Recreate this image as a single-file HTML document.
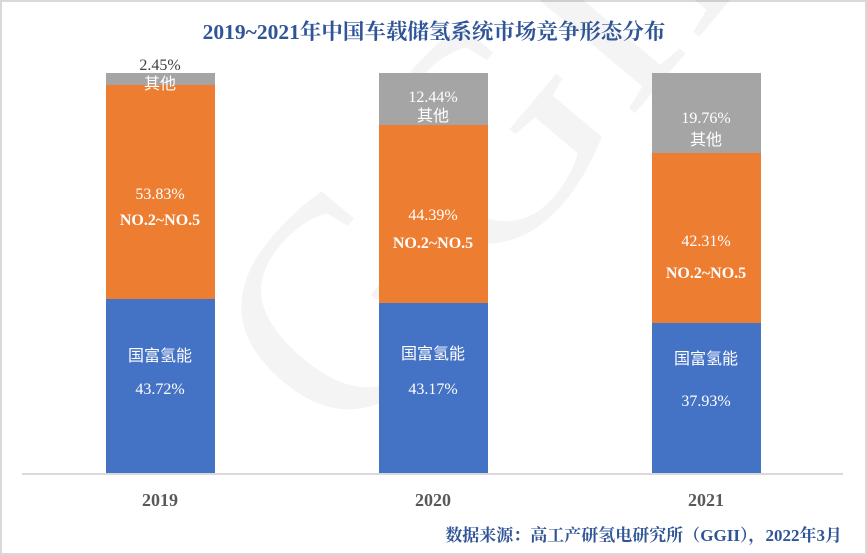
<!DOCTYPE html>
<html><head><meta charset="utf-8"><style>
body{margin:0;background:#fff}
</style></head><body>
<svg width="867" height="555" xmlns="http://www.w3.org/2000/svg" style="display:block">
<rect x="1" y="1" width="865" height="553" fill="#fff" stroke="#d9d9d9" stroke-width="2"/>
<text x="250" y="360" font-family="Liberation Serif, serif" font-size="300" fill="#000" opacity="0.04" transform="rotate(-50 400 300)">GGII</text>
<text x="434" y="39" text-anchor="middle" font-family="Liberation Serif, 'Noto Serif CJK SC', serif" font-weight="bold" font-size="21.5" fill="#2f5597">2019~2021年中国车载储氢系统市场竞争形态分布</text>
<line x1="22" y1="474" x2="843" y2="474" stroke="#d9d9d9" stroke-width="2"/>
<g>
<rect x="106" y="73" width="109" height="12" fill="#a5a5a5"/>
<rect x="106" y="85" width="109" height="214" fill="#ed7d31"/>
<rect x="106" y="299" width="109" height="174" fill="#4472c4"/>
<rect x="379" y="73" width="109" height="52" fill="#a5a5a5"/>
<rect x="379" y="125" width="109" height="178" fill="#ed7d31"/>
<rect x="379" y="303" width="109" height="170" fill="#4472c4"/>
<rect x="652" y="73" width="109" height="80" fill="#a5a5a5"/>
<rect x="652" y="153" width="109" height="170" fill="#ed7d31"/>
<rect x="652" y="323" width="109" height="150" fill="#4472c4"/>
</g>
<g font-family="Liberation Serif, 'Noto Serif CJK SC', serif" font-size="16" text-anchor="middle" fill="#fff">
<text x="160" y="70" fill="#404040">2.45%</text>
<text x="160" y="89" font-family="'Noto Sans CJK SC', sans-serif">其他</text>
<text x="160" y="199">53.83%</text>
<text x="160" y="225" font-weight="bold">NO.2~NO.5</text>
<text x="160" y="361" font-family="'Noto Sans CJK SC', sans-serif">国富氢能</text>
<text x="160" y="394">43.72%</text>
<text x="433" y="102">12.44%</text>
<text x="433" y="121" font-family="'Noto Sans CJK SC', sans-serif">其他</text>
<text x="433" y="220">44.39%</text>
<text x="433" y="248" font-weight="bold">NO.2~NO.5</text>
<text x="433" y="359" font-family="'Noto Sans CJK SC', sans-serif">国富氢能</text>
<text x="433" y="394">43.17%</text>
<text x="706" y="123">19.76%</text>
<text x="706" y="145" font-family="'Noto Sans CJK SC', sans-serif">其他</text>
<text x="706" y="246">42.31%</text>
<text x="706" y="278" font-weight="bold">NO.2~NO.5</text>
<text x="706" y="364" font-family="'Noto Sans CJK SC', sans-serif">国富氢能</text>
<text x="706" y="406">37.93%</text>
</g>
<g font-family="Liberation Serif, serif" font-weight="bold" font-size="18" fill="#595959" text-anchor="middle">
<text x="160" y="506">2019</text>
<text x="433" y="506">2020</text>
<text x="706" y="506">2021</text>
</g>
<text x="842" y="541" text-anchor="end" font-family="Liberation Serif, 'Noto Serif CJK SC', serif" font-weight="bold" font-size="17" fill="#2f5597">数据来源：高工产研氢电研究所（GGII），2022年3月</text>
</svg>
</body></html>
